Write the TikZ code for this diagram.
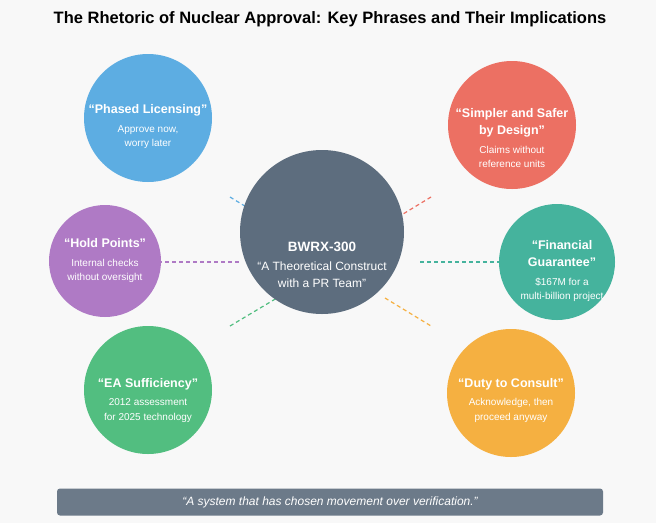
\documentclass[tikz,border=0pt]{standalone}
\usepackage{fontspec}
\setmainfont{Liberation Sans}
\begin{document}
\begin{tikzpicture}[x=1pt,y=-1pt,
  bub/.style={circle,draw=none,text=white,align=center,inner sep=0pt},
  lbl/.style={text=white,align=center,font=\fontsize{10}{14.5}\selectfont},
  dl/.style={line width=1.2pt,dash pattern=on 4pt off 3pt}]
\newcommand{\bt}[1]{{\bfseries\fontsize{12.5}{18}\selectfont #1}}
\newcommand{\st}[1]{{\fontsize{10}{14}\selectfont #1}}
\definecolor{bg}{HTML}{F8F8F8}
\definecolor{cb}{HTML}{5DADE2}\definecolor{cr}{HTML}{EC7063}
\definecolor{cp}{HTML}{AF7AC5}\definecolor{ct}{HTML}{45B39D}
\definecolor{cg}{HTML}{52BE80}\definecolor{co}{HTML}{F5B041}
\definecolor{cc}{HTML}{5D6D7E}\definecolor{cbar}{HTML}{6C7A89}
\fill[bg] (0,0) rectangle (656,523);
\useasboundingbox (0,0) rectangle (656,523);
\node[font=\bfseries\fontsize{16.5}{20}\selectfont] (title) at (330,19) {The Rhetoric of Nuclear Approval: Key Phrases and Their Implications};
\coordinate (b1) at (230,197); \coordinate (b2) at (276,225);
\coordinate (r1) at (431,197); \coordinate (r2) at (385,225);
\coordinate (p1) at (158,262); \coordinate (p2) at (240,262);
\coordinate (t1) at (420,262); \coordinate (t2) at (502,262);
\coordinate (g1) at (230,326); \coordinate (g2) at (277,298);
\coordinate (o1) at (385,298); \coordinate (o2) at (431,326);
\draw[dl,cb] (b1)--(b2); \draw[dl,cr] (r1)--(r2);
\draw[dl,cp] (p1)--(p2); \draw[dl,ct] (t1)--(t2);
\draw[dl,cg] (g1)--(g2); \draw[dl,co] (o1)--(o2);
\node[bub,fill=cc,minimum size=164pt] (c) at (322,232) {};
\node[lbl,font=\fontsize{12}{17.5}\selectfont] (ct) at (322,265) {{\bfseries\fontsize{13.5}{18}\selectfont BWRX-300}\\[1pt]``A Theoretical Construct\\with a PR Team''};
\node[bub,fill=cb,minimum size=128pt] (a) at (148,118) {};
\node[lbl] (at) at (148,127) {\bt{``Phased Licensing''}\\[4pt]Approve now,\\worry later};
\node[bub,fill=cr,minimum size=128pt] (s) at (512,125) {};
\node[lbl] (stx) at (512,138) {\bt{``Simpler and Safer}\\[3pt]\bt{by Design''}\\[4pt]Claims without\\reference units};
\node[bub,fill=cp,minimum size=112pt] (h) at (105,261) {};
\node[lbl] (ht) at (105,261) {\bt{``Hold Points''}\\[4pt]Internal checks\\without oversight};
\begin{scope}
\node[bub,fill=ct,minimum size=116pt] (f) at (557,262) {};
\clip (557,262) circle (58);
\node[lbl] (ft) at (562,271) {\bt{``Financial}\\[3pt]\bt{Guarantee''}\\[4pt]\$167M for a\\multi-billion project};
\end{scope}
\node[bub,fill=cg,minimum size=128pt] (e) at (148,390) {};
\node[lbl] (et) at (148,400) {\bt{``EA Sufficiency''}\\[4pt]2012 assessment\\for 2025 technology};
\node[bub,fill=co,minimum size=128pt] (d) at (511,393) {};
\node[lbl] (dt) at (511,400) {\bt{``Duty to Consult''}\\[4pt]Acknowledge, then\\proceed anyway};
\node[fill=cbar,rounded corners=3pt,minimum width=546pt,minimum height=27pt,text=white,font=\itshape\fontsize{12}{14}\selectfont] (bar) at (330,502) {``A system that has chosen movement over verification.''};
\end{tikzpicture}
\end{document}
